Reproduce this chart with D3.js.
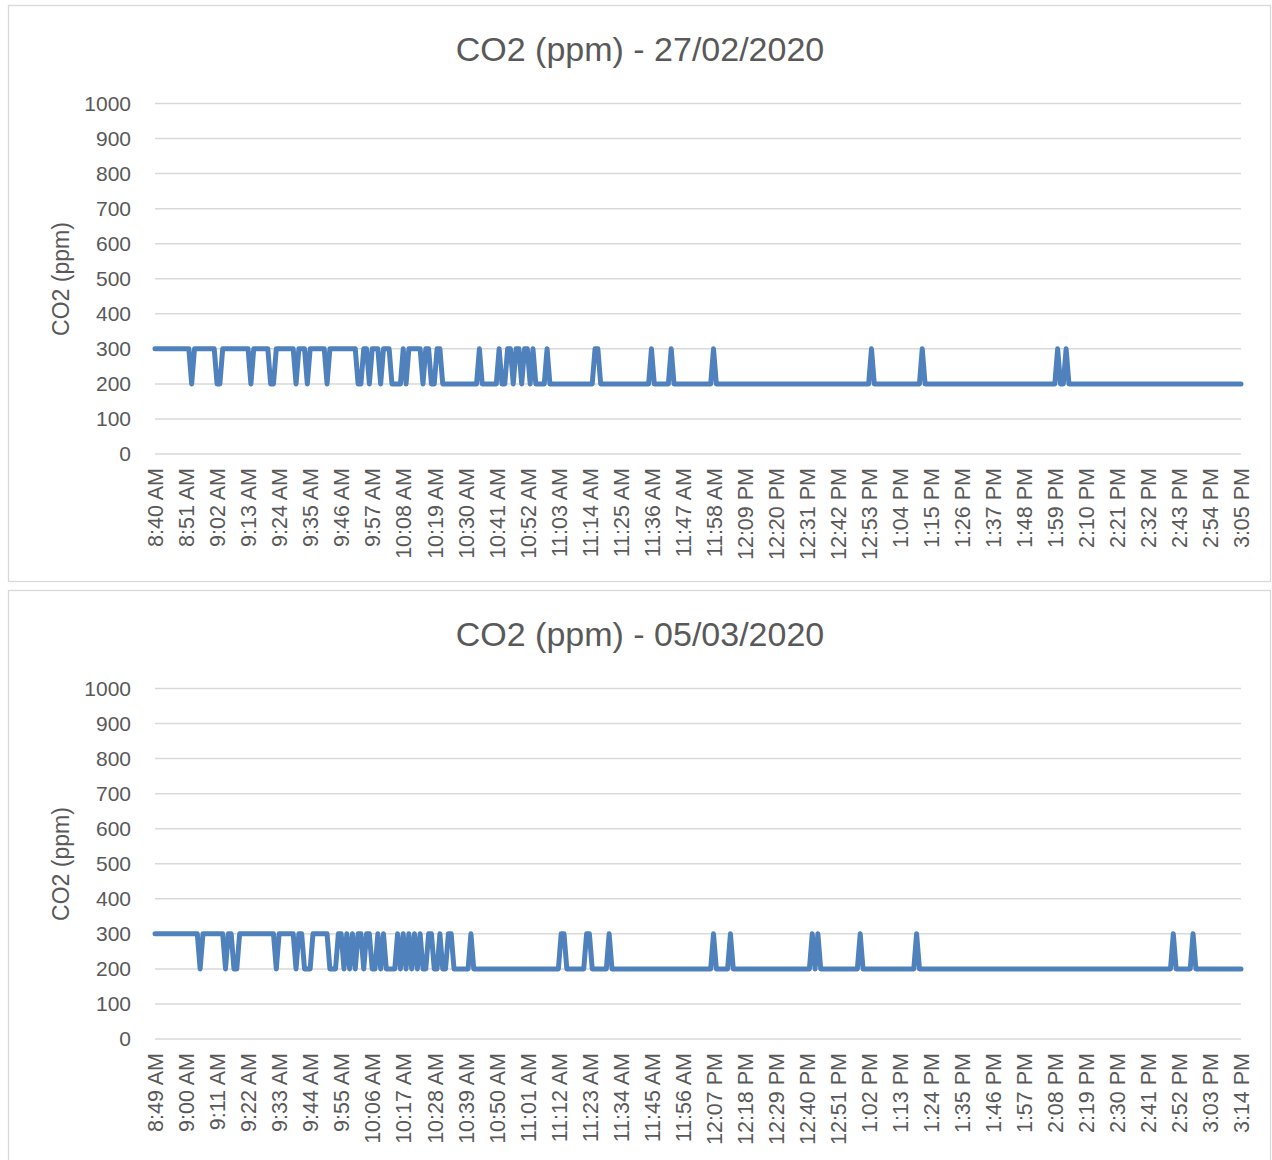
<!DOCTYPE html>
<html><head><meta charset="utf-8">
<script src="https://cdn.jsdelivr.net/npm/d3@7"></script>
<style>body{margin:0;background:#fff}svg{display:block}</style>
</head><body>
<svg id="c" width="1272" height="1160"></svg>
<script>
const yTicks = [0,100,200,300,400,500,600,700,800,900,1000];
const titles = ["CO2 (ppm) - 27/02/2020", "CO2 (ppm) - 05/03/2020"];
const labelsFeb27 = ["8:40 AM","8:51 AM","9:02 AM","9:13 AM","9:24 AM","9:35 AM","9:46 AM","9:57 AM","10:08 AM","10:19 AM","10:30 AM","10:41 AM","10:52 AM","11:03 AM","11:14 AM","11:25 AM","11:36 AM","11:47 AM","11:58 AM","12:09 PM","12:20 PM","12:31 PM","12:42 PM","12:53 PM","1:04 PM","1:15 PM","1:26 PM","1:37 PM","1:48 PM","1:59 PM","2:10 PM","2:21 PM","2:32 PM","2:43 PM","2:54 PM","3:05 PM"];
const labelsMar05 = ["8:49 AM","9:00 AM","9:11 AM","9:22 AM","9:33 AM","9:44 AM","9:55 AM","10:06 AM","10:17 AM","10:28 AM","10:39 AM","10:50 AM","11:01 AM","11:12 AM","11:23 AM","11:34 AM","11:45 AM","11:56 AM","12:07 PM","12:18 PM","12:29 PM","12:40 PM","12:51 PM","1:02 PM","1:13 PM","1:24 PM","1:35 PM","1:46 PM","1:57 PM","2:08 PM","2:19 PM","2:30 PM","2:41 PM","2:52 PM","3:03 PM","3:14 PM"];
// one reading per minute (386 minutes), stored as runs [value, number of consecutive minutes]
const runsFeb27 = [[300,13],[200,1],[300,8],[200,2],[300,10],[200,1],[300,6],[200,2],[300,7],[200,1],[300,3],[200,1],[300,6],[200,1],[300,10],[200,2],[300,2],[200,1],[300,3],[200,1],[300,3],[200,4],[300,1],[200,1],[300,5],[200,1],[300,2],[200,2],[300,2],[200,13],[300,1],[200,6],[300,1],[200,2],[300,2],[200,1],[300,2],[200,1],[300,2],[200,1],[300,1],[200,4],[300,1],[200,16],[300,2],[200,18],[300,1],[200,6],[300,1],[200,14],[300,1],[200,55],[300,1],[200,17],[300,1],[200,47],[300,1],[200,2],[300,1],[200,62]];
const runsMar05 = [[300,16],[200,1],[300,8],[200,1],[300,2],[200,2],[300,13],[200,1],[300,6],[200,1],[300,2],[200,3],[300,6],[200,3],[300,2],[200,1],[300,1],[200,1],[300,1],[200,1],[300,2],[200,1],[300,2],[200,2],[300,1],[200,1],[300,1],[200,4],[300,1],[200,1],[300,1],[200,1],[300,1],[200,1],[300,1],[200,1],[300,1],[200,2],[300,2],[200,2],[300,1],[200,2],[300,2],[200,6],[300,1],[200,31],[300,2],[200,7],[300,2],[200,6],[300,1],[200,36],[300,1],[200,5],[300,1],[200,28],[300,1],[200,1],[300,1],[200,14],[300,1],[200,19],[300,1],[200,90],[300,1],[200,6],[300,1],[200,17]];

function expand(runs){ const out=[]; runs.forEach(([v,n])=>{ for(let i=0;i<n;i++) out.push(v); }); return out; }

const svg = d3.select("#c");
const FONT = "'Liberation Sans', Arial, sans-serif";
const TXT = "#595959";

function panel(off, title, labels, values){
  const g = svg.append("g").attr("transform", `translate(0,${off})`);
  g.append("rect").attr("x",8.5).attr("y",5.5).attr("width",1262).attr("height",576)
    .attr("fill","#fff").attr("stroke","#d9d9d9").attr("stroke-width",1.3);
  const nCat = (labels.length-1)*11+1;
  const x = d3.scalePoint().domain(d3.range(nCat)).range([155,1241]);
  const y = d3.scaleLinear().domain([0,1000]).range([454,103.5]);
  g.append("g").selectAll("line").data(yTicks).join("line")
    .attr("x1",155).attr("x2",1241).attr("y1",d=>y(d)).attr("y2",d=>y(d))
    .attr("stroke","#d9d9d9").attr("stroke-width",1.5);
  const ya = g.append("g").attr("transform","translate(131,0)")
    .call(d3.axisLeft(y).tickValues(yTicks).tickSize(0).tickPadding(0).tickFormat(d3.format("d")));
  ya.select(".domain").remove();
  ya.selectAll("text").attr("font-family",FONT).attr("font-size",21).attr("fill",TXT);
  const tickIdx = labels.map((l,i)=>i*11);
  const xa = g.append("g").attr("transform","translate(0,468)")
    .call(d3.axisBottom(x).tickValues(tickIdx).tickSize(0).tickPadding(0).tickFormat((d,i)=>labels[i]));
  xa.select(".domain").remove();
  xa.selectAll("text").attr("font-family",FONT).attr("font-size",21.5).attr("fill",TXT)
    .attr("text-anchor","end").attr("transform","rotate(-90)").attr("x",0).attr("y",0).attr("dy","0.36em");
  g.append("path").datum(values.slice(0,nCat))
    .attr("fill","none").attr("stroke","#4f81bd").attr("stroke-width",5)
    .attr("stroke-linejoin","round").attr("stroke-linecap","round")
    .attr("d", d3.line().x((d,i)=>x(i)).y(d=>y(d)));
  g.append("text").attr("x",640).attr("y",61).attr("text-anchor","middle")
    .attr("font-family",FONT).attr("font-size",34).attr("fill",TXT).text(title);
  g.append("text").attr("transform","translate(69,279) rotate(-90)").attr("text-anchor","middle")
    .attr("font-family",FONT).attr("font-size",23).attr("fill",TXT).text("CO2 (ppm)");
}
panel(0, titles[0], labelsFeb27, expand(runsFeb27));
panel(585, titles[1], labelsMar05, expand(runsMar05));
</script>
</body></html>
